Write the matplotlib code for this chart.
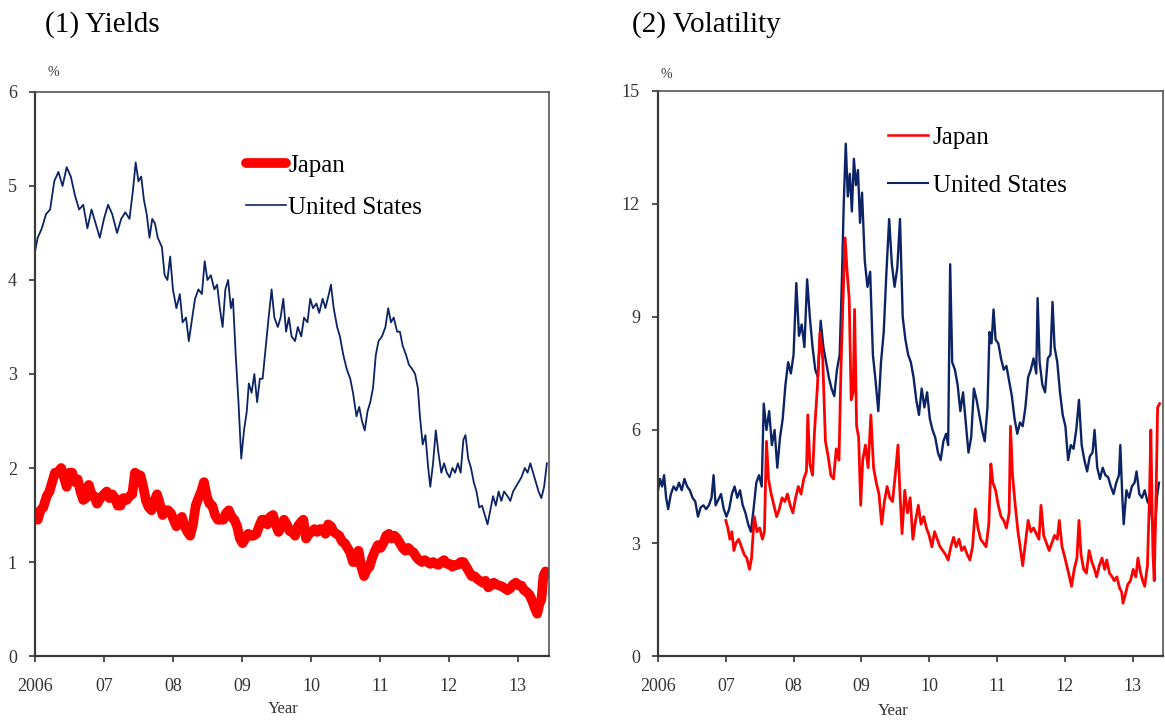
import numpy as np
import matplotlib
matplotlib.use('Agg')
import matplotlib.pyplot as plt
from matplotlib.lines import Line2D

# (decimal year, %)
us_yield_pts = [
    (2006.00, 4.30), (2006.04, 4.45), (2006.10, 4.55), (2006.16, 4.70), (2006.22, 4.75),
    (2006.28, 5.05), (2006.34, 5.15), (2006.40, 5.00), (2006.46, 5.20), (2006.52, 5.10),
    (2006.58, 4.90), (2006.64, 4.75), (2006.70, 4.80), (2006.76, 4.55), (2006.82, 4.75),
    (2006.88, 4.60), (2006.94, 4.45), (2007.00, 4.65), (2007.06, 4.80), (2007.12, 4.70),
    (2007.19, 4.50), (2007.25, 4.65), (2007.31, 4.72), (2007.37, 4.65), (2007.42, 4.95),
    (2007.46, 5.25), (2007.50, 5.05), (2007.54, 5.10), (2007.58, 4.85), (2007.62, 4.70),
    (2007.66, 4.45), (2007.70, 4.65), (2007.74, 4.60), (2007.78, 4.45), (2007.84, 4.35),
    (2007.88, 4.05), (2007.92, 4.00), (2007.96, 4.25), (2008.00, 3.90), (2008.05, 3.70),
    (2008.10, 3.85), (2008.14, 3.55), (2008.19, 3.60), (2008.23, 3.35), (2008.27, 3.55),
    (2008.32, 3.80), (2008.37, 3.90), (2008.42, 3.85), (2008.46, 4.20), (2008.50, 4.00),
    (2008.55, 4.05), (2008.60, 3.90), (2008.64, 3.95), (2008.68, 3.70), (2008.72, 3.50),
    (2008.76, 3.90), (2008.80, 4.00), (2008.84, 3.70), (2008.87, 3.80), (2008.91, 3.20),
    (2008.95, 2.70), (2008.99, 2.10), (2009.03, 2.40), (2009.07, 2.60), (2009.10, 2.90),
    (2009.14, 2.80), (2009.18, 3.00), (2009.22, 2.70), (2009.26, 2.95), (2009.30, 2.95),
    (2009.34, 3.25), (2009.38, 3.55), (2009.43, 3.90), (2009.47, 3.60), (2009.52, 3.50),
    (2009.56, 3.60), (2009.60, 3.80), (2009.64, 3.45), (2009.68, 3.60), (2009.72, 3.40),
    (2009.77, 3.35), (2009.81, 3.50), (2009.86, 3.40), (2009.90, 3.60), (2009.95, 3.55),
    (2009.99, 3.80), (2010.03, 3.70), (2010.08, 3.75), (2010.12, 3.65), (2010.17, 3.80),
    (2010.21, 3.70), (2010.26, 3.85), (2010.29, 3.95), (2010.33, 3.70), (2010.38, 3.50),
    (2010.42, 3.40), (2010.47, 3.20), (2010.52, 3.05), (2010.57, 2.95), (2010.61, 2.80),
    (2010.66, 2.55), (2010.70, 2.65), (2010.74, 2.50), (2010.78, 2.40), (2010.82, 2.60),
    (2010.86, 2.70), (2010.90, 2.85), (2010.94, 3.20), (2010.98, 3.35), (2011.03, 3.40),
    (2011.08, 3.50), (2011.12, 3.70), (2011.16, 3.55), (2011.20, 3.60), (2011.25, 3.45),
    (2011.29, 3.45), (2011.33, 3.30), (2011.38, 3.20), (2011.42, 3.10), (2011.47, 3.05),
    (2011.51, 3.00), (2011.55, 2.85), (2011.58, 2.55), (2011.62, 2.25), (2011.66, 2.35),
    (2011.70, 2.00), (2011.73, 1.80), (2011.77, 2.05), (2011.81, 2.40), (2011.85, 2.15),
    (2011.89, 1.95), (2011.93, 2.05), (2011.97, 1.95), (2012.01, 1.90), (2012.05, 2.00),
    (2012.09, 1.95), (2012.13, 2.05), (2012.17, 1.95), (2012.21, 2.30), (2012.24, 2.35),
    (2012.28, 2.10), (2012.32, 2.00), (2012.36, 1.85), (2012.40, 1.75), (2012.44, 1.58),
    (2012.48, 1.60), (2012.52, 1.50), (2012.56, 1.40), (2012.60, 1.55), (2012.64, 1.70),
    (2012.68, 1.60), (2012.72, 1.75), (2012.76, 1.65), (2012.80, 1.75), (2012.85, 1.70),
    (2012.89, 1.65), (2012.93, 1.75), (2012.97, 1.80), (2013.01, 1.85), (2013.05, 1.90),
    (2013.10, 2.00), (2013.14, 1.95), (2013.18, 2.05), (2013.22, 1.95), (2013.26, 1.85),
    (2013.30, 1.75), (2013.34, 1.68), (2013.38, 1.80), (2013.42, 2.05),
]

jp_yield_pts = [
    (2006.00, 1.50), (2006.04, 1.45), (2006.08, 1.55), (2006.12, 1.58), (2006.17, 1.70),
    (2006.21, 1.75), (2006.25, 1.85), (2006.29, 1.95), (2006.33, 1.95), (2006.38, 2.00),
    (2006.42, 1.90), (2006.46, 1.80), (2006.50, 1.95), (2006.54, 1.95), (2006.58, 1.85),
    (2006.62, 1.88), (2006.66, 1.75), (2006.70, 1.66), (2006.74, 1.68), (2006.78, 1.82),
    (2006.82, 1.72), (2006.86, 1.70), (2006.90, 1.62), (2006.95, 1.68), (2007.00, 1.72),
    (2007.04, 1.75), (2007.08, 1.68), (2007.12, 1.72), (2007.16, 1.68), (2007.20, 1.60),
    (2007.24, 1.60), (2007.28, 1.68), (2007.33, 1.66), (2007.37, 1.70), (2007.41, 1.72),
    (2007.45, 1.95), (2007.49, 1.93), (2007.53, 1.92), (2007.57, 1.80), (2007.61, 1.65),
    (2007.65, 1.58), (2007.69, 1.55), (2007.73, 1.65), (2007.77, 1.72), (2007.81, 1.62),
    (2007.85, 1.50), (2007.89, 1.55), (2007.93, 1.55), (2007.97, 1.52), (2008.01, 1.45),
    (2008.05, 1.38), (2008.09, 1.42), (2008.13, 1.48), (2008.17, 1.38), (2008.21, 1.32),
    (2008.25, 1.28), (2008.29, 1.40), (2008.33, 1.60), (2008.37, 1.68), (2008.41, 1.75),
    (2008.45, 1.85), (2008.49, 1.70), (2008.53, 1.62), (2008.57, 1.60), (2008.61, 1.50),
    (2008.65, 1.45), (2008.69, 1.45), (2008.73, 1.45), (2008.77, 1.52), (2008.81, 1.55),
    (2008.85, 1.48), (2008.89, 1.45), (2008.93, 1.38), (2008.97, 1.25), (2009.01, 1.20),
    (2009.05, 1.25), (2009.09, 1.30), (2009.13, 1.28), (2009.17, 1.28), (2009.21, 1.30),
    (2009.25, 1.38), (2009.29, 1.45), (2009.33, 1.45), (2009.37, 1.40), (2009.41, 1.48),
    (2009.45, 1.50), (2009.49, 1.40), (2009.53, 1.32), (2009.57, 1.38), (2009.61, 1.45),
    (2009.65, 1.40), (2009.69, 1.33), (2009.73, 1.32), (2009.77, 1.28), (2009.81, 1.38),
    (2009.85, 1.42), (2009.89, 1.45), (2009.93, 1.25), (2009.97, 1.30), (2010.01, 1.32),
    (2010.05, 1.35), (2010.09, 1.32), (2010.13, 1.35), (2010.17, 1.35), (2010.21, 1.30),
    (2010.25, 1.40), (2010.29, 1.38), (2010.33, 1.32), (2010.37, 1.30), (2010.41, 1.28),
    (2010.45, 1.22), (2010.49, 1.20), (2010.53, 1.15), (2010.57, 1.10), (2010.61, 1.00),
    (2010.65, 1.00), (2010.69, 1.12), (2010.73, 0.95), (2010.77, 0.85), (2010.81, 0.92),
    (2010.85, 0.95), (2010.89, 1.05), (2010.93, 1.12), (2010.97, 1.18), (2011.01, 1.15),
    (2011.05, 1.20), (2011.09, 1.28), (2011.13, 1.30), (2011.17, 1.25), (2011.21, 1.28),
    (2011.25, 1.25), (2011.29, 1.20), (2011.33, 1.15), (2011.37, 1.12), (2011.41, 1.15),
    (2011.45, 1.12), (2011.49, 1.10), (2011.53, 1.05), (2011.57, 1.02), (2011.61, 1.00),
    (2011.65, 1.02), (2011.69, 1.00), (2011.73, 0.98), (2011.77, 1.00), (2011.81, 0.98),
    (2011.85, 0.97), (2011.89, 1.00), (2011.93, 1.02), (2011.97, 0.98), (2012.01, 0.98),
    (2012.05, 0.95), (2012.09, 0.97), (2012.13, 0.97), (2012.17, 1.00), (2012.21, 1.00),
    (2012.25, 0.95), (2012.29, 0.90), (2012.33, 0.85), (2012.37, 0.85), (2012.41, 0.82),
    (2012.45, 0.80), (2012.49, 0.78), (2012.53, 0.80), (2012.57, 0.73), (2012.61, 0.75),
    (2012.65, 0.78), (2012.69, 0.76), (2012.73, 0.75), (2012.77, 0.74), (2012.81, 0.72),
    (2012.85, 0.70), (2012.89, 0.72), (2012.93, 0.76), (2012.97, 0.78), (2013.01, 0.75),
    (2013.05, 0.75), (2013.09, 0.70), (2013.13, 0.68), (2013.17, 0.65), (2013.21, 0.58),
    (2013.25, 0.50), (2013.28, 0.45), (2013.31, 0.55), (2013.34, 0.60), (2013.37, 0.85),
    (2013.40, 0.90), (2013.43, 0.88),
]

us_vol_pts = [
    (2006.00, 4.40), (2006.03, 4.70), (2006.06, 4.50), (2006.09, 4.80), (2006.12, 4.20),
    (2006.15, 3.90), (2006.19, 4.30), (2006.23, 4.50), (2006.27, 4.40), (2006.31, 4.60),
    (2006.35, 4.40), (2006.39, 4.70), (2006.43, 4.50), (2006.47, 4.40), (2006.51, 4.20),
    (2006.55, 4.10), (2006.59, 3.70), (2006.63, 3.95), (2006.67, 4.00), (2006.71, 3.90),
    (2006.75, 4.00), (2006.79, 4.20), (2006.82, 4.80), (2006.85, 4.00), (2006.89, 4.15),
    (2006.93, 4.30), (2006.97, 3.90), (2007.01, 3.70), (2007.05, 3.90), (2007.09, 4.30),
    (2007.13, 4.50), (2007.17, 4.20), (2007.21, 4.40), (2007.25, 4.00), (2007.29, 3.80),
    (2007.33, 3.50), (2007.37, 3.30), (2007.41, 3.90), (2007.45, 4.60), (2007.49, 4.80),
    (2007.53, 4.50), (2007.56, 6.70), (2007.60, 6.00), (2007.64, 6.50), (2007.68, 5.60),
    (2007.72, 6.00), (2007.76, 5.00), (2007.80, 5.80), (2007.84, 6.30), (2007.88, 7.20),
    (2007.92, 7.80), (2007.96, 7.50), (2008.00, 8.00), (2008.04, 9.90), (2008.08, 8.50),
    (2008.12, 8.80), (2008.16, 8.20), (2008.20, 10.00), (2008.24, 9.00), (2008.28, 8.20),
    (2008.32, 7.60), (2008.36, 7.40), (2008.40, 8.90), (2008.44, 8.20), (2008.48, 7.80),
    (2008.52, 7.40), (2008.56, 7.10), (2008.60, 6.90), (2008.64, 7.60), (2008.68, 8.00),
    (2008.71, 9.80), (2008.74, 12.00), (2008.77, 13.60), (2008.80, 12.20), (2008.83, 12.80),
    (2008.86, 11.80), (2008.89, 13.20), (2008.92, 12.50), (2008.95, 12.90), (2008.98, 11.50),
    (2009.01, 12.30), (2009.05, 10.50), (2009.09, 9.80), (2009.13, 10.20), (2009.17, 8.00),
    (2009.21, 7.30), (2009.25, 6.50), (2009.29, 7.80), (2009.33, 8.60), (2009.37, 10.20),
    (2009.41, 11.60), (2009.45, 10.40), (2009.49, 9.80), (2009.53, 10.30), (2009.57, 11.60),
    (2009.61, 9.00), (2009.65, 8.40), (2009.69, 8.00), (2009.73, 7.80), (2009.77, 7.40),
    (2009.81, 6.80), (2009.85, 6.40), (2009.89, 7.10), (2009.93, 6.60), (2009.97, 7.00),
    (2010.01, 6.30), (2010.05, 6.00), (2010.09, 5.80), (2010.13, 5.40), (2010.17, 5.20),
    (2010.21, 5.70), (2010.25, 5.90), (2010.28, 5.60), (2010.31, 10.40), (2010.34, 7.80),
    (2010.38, 7.60), (2010.42, 7.20), (2010.46, 6.50), (2010.50, 7.00), (2010.54, 6.20),
    (2010.58, 5.40), (2010.62, 5.80), (2010.66, 7.10), (2010.70, 6.80), (2010.74, 6.40),
    (2010.78, 6.00), (2010.82, 5.70), (2010.86, 6.60), (2010.89, 8.60), (2010.92, 8.30),
    (2010.95, 9.20), (2010.98, 8.40), (2011.02, 8.30), (2011.06, 7.90), (2011.10, 7.60),
    (2011.14, 7.70), (2011.18, 7.30), (2011.22, 6.90), (2011.26, 6.30), (2011.30, 5.90),
    (2011.34, 6.20), (2011.38, 6.10), (2011.42, 6.60), (2011.46, 7.40), (2011.50, 7.60),
    (2011.54, 7.90), (2011.58, 7.50), (2011.60, 9.50), (2011.63, 7.80), (2011.67, 7.20),
    (2011.71, 7.00), (2011.75, 7.90), (2011.79, 8.00), (2011.82, 9.40), (2011.85, 8.20),
    (2011.89, 7.80), (2011.93, 7.00), (2011.97, 6.40), (2012.01, 6.10), (2012.05, 5.20),
    (2012.09, 5.60), (2012.13, 5.50), (2012.17, 6.00), (2012.21, 6.80), (2012.25, 5.60),
    (2012.29, 5.20), (2012.33, 4.90), (2012.37, 5.30), (2012.41, 5.40), (2012.44, 6.00),
    (2012.48, 5.00), (2012.52, 4.70), (2012.56, 5.00), (2012.60, 4.80), (2012.64, 4.75),
    (2012.68, 4.50), (2012.72, 4.30), (2012.76, 4.60), (2012.80, 4.80), (2012.82, 5.60),
    (2012.85, 4.20), (2012.87, 3.50), (2012.91, 4.40), (2012.95, 4.20), (2012.99, 4.50),
    (2013.03, 4.60), (2013.06, 4.90), (2013.10, 4.30), (2013.14, 4.20), (2013.18, 4.40),
    (2013.22, 4.10), (2013.26, 4.00), (2013.30, 3.50), (2013.33, 3.30), (2013.36, 4.20),
    (2013.39, 4.60),
]

jp_vol_pts = [
    (2007.00, 3.60), (2007.03, 3.40), (2007.06, 3.10), (2007.09, 3.30), (2007.12, 2.80),
    (2007.15, 3.00), (2007.19, 3.10), (2007.23, 2.90), (2007.27, 2.70), (2007.31, 2.60),
    (2007.35, 2.30), (2007.38, 2.60), (2007.42, 3.70), (2007.46, 3.30), (2007.50, 3.40),
    (2007.54, 3.10), (2007.57, 3.30), (2007.60, 5.70), (2007.63, 4.70), (2007.67, 4.30),
    (2007.71, 4.00), (2007.75, 3.70), (2007.79, 3.90), (2007.83, 4.20), (2007.87, 4.10),
    (2007.91, 4.30), (2007.95, 4.00), (2007.99, 3.80), (2008.03, 4.20), (2008.07, 4.50),
    (2008.11, 4.30), (2008.15, 4.70), (2008.19, 4.90), (2008.21, 6.40), (2008.24, 5.10),
    (2008.28, 4.80), (2008.31, 6.00), (2008.35, 7.10), (2008.39, 8.60), (2008.43, 7.90),
    (2008.47, 5.70), (2008.51, 5.30), (2008.55, 4.80), (2008.59, 4.70), (2008.63, 5.50),
    (2008.67, 5.20), (2008.70, 7.70), (2008.73, 9.50), (2008.76, 11.10), (2008.79, 10.20),
    (2008.82, 9.50), (2008.85, 6.80), (2008.88, 7.00), (2008.90, 9.20), (2008.93, 6.10),
    (2008.96, 5.80), (2008.99, 4.00), (2009.02, 5.20), (2009.06, 5.60), (2009.10, 5.00),
    (2009.14, 6.40), (2009.18, 5.00), (2009.22, 4.60), (2009.26, 4.30), (2009.30, 3.50),
    (2009.34, 4.10), (2009.38, 4.50), (2009.42, 4.20), (2009.46, 4.10), (2009.50, 4.80),
    (2009.54, 5.60), (2009.57, 4.30), (2009.60, 3.25), (2009.64, 4.40), (2009.68, 3.80),
    (2009.72, 4.20), (2009.76, 3.10), (2009.80, 3.60), (2009.84, 4.00), (2009.88, 3.50),
    (2009.92, 3.70), (2009.96, 3.40), (2010.00, 3.20), (2010.04, 2.90), (2010.08, 3.30),
    (2010.12, 3.10), (2010.16, 2.90), (2010.20, 2.80), (2010.24, 2.70), (2010.28, 2.55),
    (2010.32, 2.90), (2010.36, 3.15), (2010.40, 2.90), (2010.44, 3.10), (2010.48, 2.80),
    (2010.52, 2.90), (2010.56, 2.70), (2010.60, 2.55), (2010.64, 2.90), (2010.68, 3.90),
    (2010.72, 3.40), (2010.76, 3.10), (2010.80, 3.00), (2010.84, 2.90), (2010.88, 3.50),
    (2010.91, 5.10), (2010.94, 4.60), (2010.98, 4.40), (2011.02, 4.00), (2011.06, 3.70),
    (2011.10, 3.60), (2011.14, 3.40), (2011.18, 3.80), (2011.20, 6.10), (2011.23, 4.80),
    (2011.27, 4.00), (2011.31, 3.30), (2011.35, 2.80), (2011.38, 2.40), (2011.42, 3.00),
    (2011.46, 3.60), (2011.50, 3.30), (2011.54, 3.40), (2011.58, 3.25), (2011.62, 3.10),
    (2011.65, 4.00), (2011.69, 3.20), (2011.73, 3.00), (2011.77, 2.80), (2011.81, 3.00),
    (2011.85, 3.20), (2011.89, 3.10), (2011.92, 3.60), (2011.96, 2.90), (2011.99, 2.70),
    (2012.03, 2.40), (2012.07, 2.10), (2012.10, 1.85), (2012.14, 2.30), (2012.18, 2.60),
    (2012.21, 3.60), (2012.24, 2.70), (2012.28, 2.30), (2012.32, 2.20), (2012.36, 2.80),
    (2012.40, 2.50), (2012.44, 2.30), (2012.47, 2.10), (2012.51, 2.40), (2012.55, 2.60),
    (2012.59, 2.30), (2012.62, 2.55), (2012.66, 2.20), (2012.70, 2.10), (2012.73, 2.00),
    (2012.77, 2.10), (2012.81, 1.80), (2012.84, 1.70), (2012.86, 1.40), (2012.89, 1.60),
    (2012.93, 1.90), (2012.97, 2.00), (2013.01, 2.30), (2013.05, 2.10), (2013.08, 2.60),
    (2013.12, 2.20), (2013.15, 2.00), (2013.18, 1.85), (2013.22, 2.40), (2013.25, 4.20),
    (2013.27, 6.00), (2013.30, 2.80), (2013.32, 2.00), (2013.35, 4.50), (2013.37, 6.60),
    (2013.40, 6.70),
]

year_ticks = [2006, 2007, 2008, 2009, 2010, 2011, 2012, 2013]
year_labels = ['2006', '07', '08', '09', '10', '11', '12', '13']

RED = '#ff0000'
NAVY = '#0c2465'

plt.rcParams['font.family'] = ['Liberation Serif', 'DejaVu Serif']


def unzip(pts):
    arr = np.array(pts)
    return arr[:, 0], arr[:, 1]


def style_axes(ax, ymax, ystep):
    ax.set_xlim(2006, 2013.45)
    ax.set_ylim(0, ymax)
    ax.set_xticks(year_ticks)
    ax.set_xticklabels(year_labels)
    ax.set_yticks(np.arange(0, ymax + 0.01, ystep))
    ax.tick_params(axis='x', direction='out', length=4, width=1.2, labelsize=13,
                   pad=12, colors='#333333')
    ax.tick_params(axis='y', direction='out', length=4, width=1.2, labelsize=13,
                   pad=9, colors='#333333')
    for side in ['left', 'bottom']:
        ax.spines[side].set_color('#3a3a3a')
        ax.spines[side].set_linewidth(1.6)
    for side in ['top', 'right']:
        ax.spines[side].set_color('#555555')
        ax.spines[side].set_linewidth(1.2)


fig = plt.figure(figsize=(11.65, 7.22), dpi=100)
ax1 = fig.add_axes([0.0300, 0.0914, 0.4412, 0.7812])
ax2 = fig.add_axes([0.5648, 0.0914, 0.4335, 0.7826])

# (1) Yields
t, v = unzip(us_yield_pts)
ax1.plot(t, v, color=NAVY, lw=1.3)
t, v = unzip(jp_yield_pts)
ax1.plot(t, v, color=RED, lw=7, solid_capstyle='round', solid_joinstyle='round')
style_axes(ax1, 6, 1)
h1 = [Line2D([], [], color=RED, lw=7, solid_capstyle='round'),
      Line2D([], [], color=NAVY, lw=1.2)]
ax1.legend(h1, ['Japan', 'United States'], loc='upper left',
           bbox_to_anchor=(0.41, 0.89), frameon=False, fontsize=18,
           handlelength=1.6, handletextpad=0.1, labelspacing=0.78,
           borderpad=0, borderaxespad=0)

# (2) Volatility
t, v = unzip(us_vol_pts)
ax2.plot(t, v, color=NAVY, lw=1.7)
t, v = unzip(jp_vol_pts)
ax2.plot(t, v, color=RED, lw=2.0)
style_axes(ax2, 15, 3)
h2 = [Line2D([], [], color=RED, lw=1.8),
      Line2D([], [], color=NAVY, lw=1.5)]
ax2.legend(h2, ['Japan', 'United States'], loc='upper left',
           bbox_to_anchor=(0.455, 0.938), frameon=False, fontsize=18,
           handlelength=1.6, handletextpad=0.2, labelspacing=1.03,
           borderpad=0, borderaxespad=0)

W, H = 1165, 722
fig.text(45 / W, 1 - 25 / H, '(1) Yields', fontsize=21, ha='left', va='center')
fig.text(632 / W, 1 - 25 / H, '(2) Volatility', fontsize=21, ha='left', va='center')
fig.text(53 / W, 1 - 72 / H, '%', fontsize=10, ha='center', va='center', color='#333333')
fig.text(666 / W, 1 - 74 / H, '%', fontsize=10, ha='center', va='center', color='#333333')
fig.text(283 / W, 1 - 709 / H, 'Year', fontsize=12, ha='center', va='center', color='#333333')
fig.text(893 / W, 1 - 711 / H, 'Year', fontsize=12, ha='center', va='center', color='#333333')

fig.savefig('out.png', dpi=100)
